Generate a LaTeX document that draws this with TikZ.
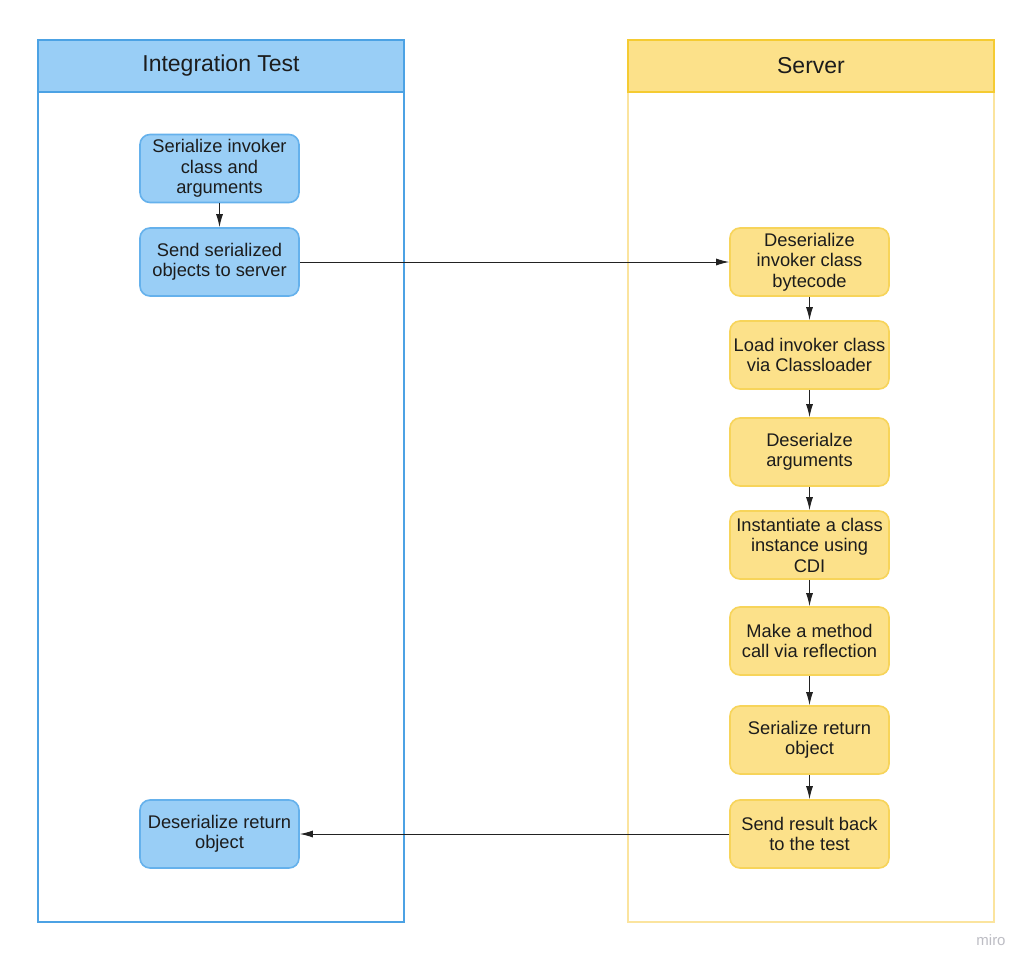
\documentclass[tikz,border=0pt]{standalone}
\usepackage{fontspec}
\setmainfont{Liberation Sans}
\usetikzlibrary{arrows.meta}
\definecolor{bluefill}{HTML}{99CEF6}
\definecolor{blueline}{HTML}{4CA2E4}
\definecolor{bluenode}{HTML}{65B1EC}
\definecolor{yelfill}{HTML}{FCE18A}
\definecolor{yelline}{HTML}{F5CB32}
\definecolor{yelbody}{HTML}{FBE49E}
\definecolor{yelnode}{HTML}{F7D45A}
\definecolor{txt}{HTML}{1C1C1C}
\definecolor{arr}{HTML}{222222}
\definecolor{logo}{HTML}{BDBDC4}
\tikzset{
  lanehead/.style={draw, line width=2pt, minimum width=366pt, minimum height=52pt, inner sep=0pt, anchor=north west, text=txt, font=\fontsize{23}{27}\selectfont},
  lanebody/.style={draw, line width=2pt, minimum width=366pt, minimum height=830pt, inner sep=0pt, anchor=north west},
  stepbox/.style={draw, line width=1.6pt, rounded corners=10pt, minimum width=159pt, minimum height=68pt, inner sep=2pt, align=center, text=txt, font=\fontsize{18.3}{20.5}\selectfont},
  bluestep/.style={stepbox, fill=bluefill, draw=bluenode},
  yelstep/.style={stepbox, fill=yelfill, draw=yelnode},
  conn/.style={draw=arr, line width=1pt, -{Latex[length=13pt,width=7pt]}}
}
\begin{document}
\begin{tikzpicture}[x=1pt,y=-1pt]
\useasboundingbox (0,0) rectangle (1031,969);
\fill[white] (0,0) rectangle (1031,969);
% lanes
\node[lanebody, draw=blueline] (lbody) at (37,91) {};
\node[lanehead, draw=blueline, fill=bluefill] (lhead) at (37,39) {Integration Test};
\node[lanebody, draw=yelbody] (rbody) at (627,91) {};
\node[lanehead, draw=yelline, fill=yelfill] (rhead) at (627,39) {Server};
% left steps
\node[bluestep] (a1) at (219.5,168.5) {Serialize invoker\\class and\\arguments};
\node[bluestep] (a2) at (219.5,262) {Send serialized\\objects to server};
\node[bluestep] (a3) at (219.5,834) {Deserialize return\\object};
% right steps
\node[yelstep] (b1) at (809.5,262) {Deserialize\\invoker class\\bytecode};
\node[yelstep] (b2) at (809.5,355) {Load invoker class\\via Classloader};
\node[yelstep] (b3) at (809.5,452) {Deserialze\\arguments};
\node[yelstep] (b4) at (809.5,545) {Instantiate a class\\instance using\\CDI};
\node[yelstep] (b5) at (809.5,641) {Make a method\\call via reflection};
\node[yelstep] (b6) at (809.5,740) {Serialize return\\object};
\node[yelstep] (b7) at (809.5,834) {Send result back\\to the test};
% connectors
\draw[conn] (a1) -- (a2);
\draw[conn] (a2) -- (b1);
\draw[conn] (b1) -- (b2);
\draw[conn] (b2) -- (b3);
\draw[conn] (b3) -- (b4);
\draw[conn] (b4) -- (b5);
\draw[conn] (b5) -- (b6);
\draw[conn] (b6) -- (b7);
\draw[conn] (b7) -- (a3);
% logo
\node[text=logo, font=\fontsize{15}{17}\selectfont] (logo) at (991,940) {miro};
\end{tikzpicture}
\end{document}
